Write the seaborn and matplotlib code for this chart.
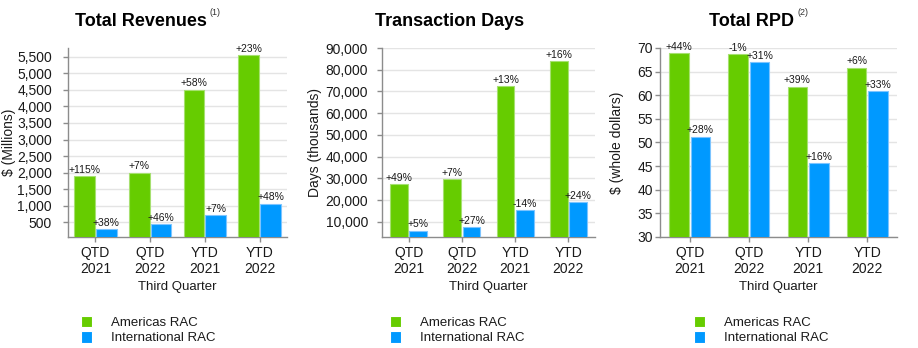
import matplotlib
matplotlib.use("Agg")
import matplotlib.pyplot as plt
import seaborn as sns
import pandas as pd
from matplotlib.ticker import FuncFormatter, FixedLocator

# ---------------- data ----------------
categories = ["QTD\n2021", "QTD\n2022", "YTD\n2021", "YTD\n2022"]
series_names = ["Americas RAC", "International RAC"]

rev_am = [1900, 2005, 4500, 5540]
rev_intl = [290, 440, 710, 1070]
rev_am_pct = ["+115%", "+7%", "+58%", "+23%"]
rev_intl_pct = ["+38%", "+46%", "+7%", "+48%"]

days_am = [27400, 29700, 72300, 84000]
days_intl = [5850, 7550, 15400, 19100]
days_am_pct = ["+49%", "+7%", "+13%", "+16%"]
days_intl_pct = ["+5%", "+27%", "-14%", "+24%"]

rpd_am = [68.9, 68.7, 61.8, 65.8]
rpd_intl = [51.2, 67.0, 45.6, 60.8]
rpd_am_pct = ["+44%", "-1%", "+39%", "+6%"]
rpd_intl_pct = ["+28%", "+31%", "+16%", "+33%"]

titles = ["Total Revenues", "Transaction Days", "Total RPD"]
title_notes = ["(1)", None, "(2)"]
ylabels = ["$ (Millions)", "Days (thousands)", "$ (whole dollars)"]
xlabel = "Third Quarter"

# ---------------- style ----------------
sns.set_style("white")
plt.rcParams["font.family"] = ["Liberation Sans", "DejaVu Sans"]

GREEN = "#66CC00"
BLUE = "#0099FF"
palette = {series_names[0]: GREEN, series_names[1]: BLUE}
edge_cols = {series_names[0]: "#A6E070", series_names[1]: "#7CC4FF"}
TXT = "#1a1a1a"
AX = "#8c8c8c"
GRID = "#e4e4e4"

fig = plt.figure(figsize=(9.18, 3.48), dpi=100)
W, H = 918, 348


def px_axes(l, r, t, b):
    return fig.add_axes([l / W, (H - b) / H, (r - l) / W, (b - t) / H])


panels = [
    dict(box=(68, 287, 48, 237), am=rev_am, intl=rev_intl, am_pct=rev_am_pct, intl_pct=rev_intl_pct,
         ylim=(60, 5760), ticks=list(range(500, 5501, 500)), width=0.8, gap=0.05, pad=8,
         ylab_x=16.5, title_x=141, note_x=210),
    dict(box=(382, 595, 48, 237), am=days_am, intl=days_intl, am_pct=days_am_pct, intl_pct=days_intl_pct,
         ylim=(3000, 90000), ticks=list(range(10000, 90001, 10000)), width=0.72, gap=0.08, pad=6.5,
         ylab_x=322.5, title_x=449.5, note_x=None),
    dict(box=(660, 897, 48, 237), am=rpd_am, intl=rpd_intl, am_pct=rpd_am_pct, intl_pct=rpd_intl_pct,
         ylim=(30, 70), ticks=list(range(30, 71, 5)), width=0.73, gap=0.1, pad=1.5,
         ylab_x=624.5, title_x=751.5, note_x=798),
]

legend_x = [81, 390, 694]

for i, p in enumerate(panels):
    l, r, t, b = p["box"]
    ax = px_axes(l, r, t, b)
    df = pd.DataFrame({
        "cat": categories * 2,
        "series": [series_names[0]] * 4 + [series_names[1]] * 4,
        "value": list(p["am"]) + list(p["intl"]),
    })
    sns.barplot(data=df, x="cat", y="value", hue="series", palette=palette,
                width=p["width"], gap=p["gap"], saturation=1, ax=ax, legend=True,
                linewidth=0.8, zorder=3)
    for cont, name in zip(ax.containers, series_names):
        for bar in cont:
            bar.set_edgecolor(edge_cols[name])
        labels = p["am_pct"] if name == series_names[0] else p["intl_pct"]
        ax.bar_label(cont, labels=labels, padding=1, fontsize=7.5, color=TXT)

    ax.set_xlim(-0.5, 3.5)
    ax.set_ylim(*p["ylim"])
    ax.yaxis.set_major_locator(FixedLocator(p["ticks"]))
    if i < 2:
        ax.yaxis.set_major_formatter(FuncFormatter(lambda v, pos: f"{int(v):,}"))
    else:
        ax.yaxis.set_major_formatter(FuncFormatter(lambda v, pos: f"{int(v)}"))
    ax.grid(axis="y", color=GRID, linewidth=1.0, zorder=0)
    ax.set_axisbelow(True)
    for s in ["top", "right"]:
        ax.spines[s].set_visible(False)
    for s in ["left", "bottom"]:
        ax.spines[s].set_color(AX)
        ax.spines[s].set_linewidth(1.0)
    ax.tick_params(axis="y", direction="out", length=3.6, width=1, color=AX,
                   labelsize=10, labelcolor=TXT, pad=p["pad"], left=True)
    ax.tick_params(axis="x", direction="out", length=3.6, width=1, color=AX,
                   labelsize=10, labelcolor=TXT, pad=3, bottom=True)
    for lab in ax.get_xticklabels():
        lab.set_linespacing(1.15)
    ax.set_xlabel(xlabel, fontsize=9.5, color=TXT, labelpad=4)
    ax.set_ylabel(ylabels[i], fontsize=10, color=TXT)
    ax.yaxis.set_label_coords((p["ylab_x"] - l) / (r - l), 0.5)

    handles, labs = ax.get_legend_handles_labels()
    ax.legend(handles, labs, loc="upper left",
              bbox_to_anchor=(legend_x[i] / W, (H - 316) / H), bbox_transform=fig.transFigure,
              frameon=False, fontsize=9.5, handlelength=0.85, handleheight=0.95,
              handletextpad=1.45, labelspacing=0.15, borderpad=0, borderaxespad=0,
              labelcolor=TXT)

    fig.text(p["title_x"] / W, 1 - 21 / H, titles[i], ha="center", va="center",
             fontsize=13, fontweight="bold", color="black")
    if title_notes[i]:
        fig.text(p["note_x"] / W, 1 - 12.5 / H, title_notes[i], ha="left", va="center",
                 fontsize=6.5, color="#333333")

fig.savefig("out.png", dpi=100)
